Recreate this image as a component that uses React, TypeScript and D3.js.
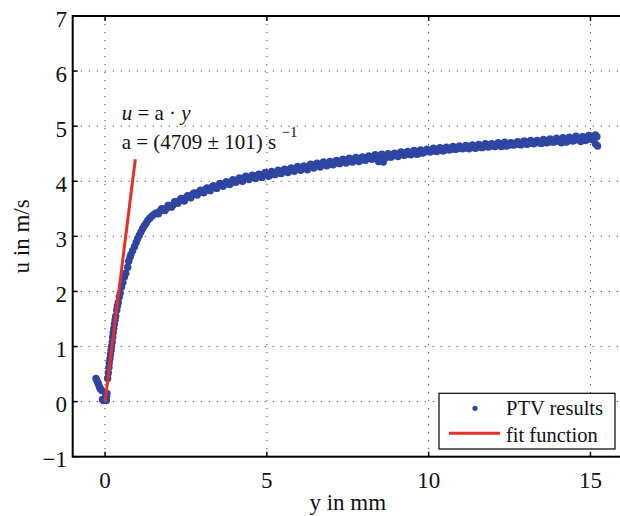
import React from "react";
import * as d3 from "d3";

// ---- data ----
const nearWallY = [-0.28, -0.25, -0.22, -0.2, -0.17, -0.14, -0.1, -0.08, -0.05, -0.02, 0.0, 0.03, 0.05, 0.02, 0.06, 0.04];
const nearWallU = [0.42, 0.38, 0.34, 0.31, 0.26, 0.23, 0.2, 0.04, 0.02, 0.03, 0.05, 0.06, 0.1, 0.13, 0.15, 0.02];

const riseY = [0.08, 0.1, 0.12, 0.13, 0.15, 0.17, 0.185, 0.2, 0.22, 0.235, 0.25, 0.27, 0.29, 0.31, 0.33, 0.36, 0.38, 0.41, 0.44, 0.47, 0.51, 0.55, 0.6, 0.64, 0.7, 0.73, 0.77, 0.8, 0.85, 0.91, 0.96, 1.01, 1.06, 1.11, 1.16, 1.21, 1.27, 1.32, 1.38, 1.45, 1.52];
const riseU = [0.42, 0.52, 0.62, 0.7, 0.78, 0.86, 0.93, 1.0, 1.08, 1.17, 1.25, 1.33, 1.41, 1.48, 1.55, 1.66, 1.73, 1.8, 1.9, 1.97, 2.08, 2.16, 2.26, 2.33, 2.44, 2.55, 2.62, 2.67, 2.74, 2.81, 2.89, 2.96, 3.02, 3.08, 3.14, 3.19, 3.24, 3.29, 3.33, 3.37, 3.4];

const outerY = [
  1.6, 1.7, 1.8, 1.9, 2.0, 2.1, 2.2, 2.3, 2.4, 2.5, 2.6, 2.7, 2.8, 2.9, 3.0, 3.1, 3.2, 3.3, 3.4, 3.5,
  3.6, 3.7, 3.8, 3.9, 4.0, 4.1, 4.2, 4.3, 4.4, 4.5, 4.6, 4.7, 4.8, 4.9, 5.0, 5.1, 5.2, 5.3, 5.4, 5.5,
  5.6, 5.7, 5.8, 5.9, 6.0, 6.1, 6.2, 6.3, 6.4, 6.5, 6.6, 6.7, 6.8, 6.9, 7.0, 7.1, 7.2, 7.3, 7.4, 7.5,
  7.6, 7.7, 7.8, 7.9, 8.0, 8.1, 8.2, 8.3, 8.4, 8.5, 8.6, 8.7, 8.8, 8.9, 9.0, 9.1, 9.2, 9.3, 9.4, 9.5,
  9.6, 9.7, 9.8, 9.9, 10.0, 10.1, 10.2, 10.3, 10.4, 10.5, 10.6, 10.7, 10.8, 10.9, 11.0, 11.1, 11.2, 11.3, 11.4, 11.5,
  11.6, 11.7, 11.8, 11.9, 12.0, 12.1, 12.2, 12.3, 12.4, 12.5, 12.6, 12.7, 12.8, 12.9, 13.0, 13.1, 13.2, 13.3, 13.4, 13.5,
  13.6, 13.7, 13.8, 13.9, 14.0, 14.1, 14.2, 14.3, 14.4, 14.5, 14.6, 14.7, 14.8, 14.9, 15.0, 15.1, 15.15, 15.2, 15.22,
];
const outerU = [
  3.43, 3.46, 3.49, 3.51, 3.56, 3.57, 3.62, 3.65, 3.66, 3.7, 3.71, 3.76, 3.77, 3.8, 3.81, 3.85, 3.84, 3.89, 3.9, 3.92,
  3.94, 3.96, 3.98, 3.97, 4.01, 4.03, 4.02, 4.06, 4.05, 4.08, 4.07, 4.1, 4.09, 4.12, 4.13, 4.11, 4.15, 4.16, 4.15, 4.19,
  4.18, 4.21, 4.2, 4.23, 4.22, 4.25, 4.24, 4.27, 4.26, 4.3, 4.28, 4.31, 4.32, 4.3, 4.34, 4.33, 4.36, 4.35, 4.37, 4.39,
  4.36, 4.4, 4.38, 4.41, 4.39, 4.43, 4.42, 4.45, 4.43, 4.45, 4.35, 4.46, 4.44, 4.48, 4.47, 4.5, 4.48, 4.51, 4.49, 4.52,
  4.5, 4.53, 4.51, 4.55, 4.54, 4.56, 4.55, 4.58, 4.56, 4.59, 4.57, 4.6, 4.58, 4.61, 4.6, 4.62, 4.6, 4.63, 4.61, 4.64,
  4.62, 4.64, 4.63, 4.66, 4.64, 4.67, 4.65, 4.66, 4.64, 4.68, 4.66, 4.69, 4.67, 4.7, 4.68, 4.71, 4.69, 4.7, 4.72, 4.69,
  4.73, 4.71, 4.74, 4.72, 4.75, 4.7, 4.76, 4.73, 4.77, 4.74, 4.78, 4.72, 4.8, 4.76, 4.82, 4.78, 4.68, 4.81, 4.64,
];

const outerY2 = [
  1.65, 1.75, 1.85, 1.95, 2.05, 2.15, 2.25, 2.35, 2.45, 2.55, 2.65, 2.75, 2.85, 2.95, 3.05, 3.15, 3.25, 3.35, 3.45, 3.55,
  3.65, 3.75, 3.85, 3.95, 4.05, 4.15, 4.25, 4.35, 4.45, 4.55, 4.65, 4.75, 4.85, 4.95, 5.05, 5.15, 5.25, 5.35, 5.45, 5.55,
  5.65, 5.75, 5.85, 5.95, 6.05, 6.15, 6.25, 6.35, 6.45, 6.55, 6.65, 6.75, 6.85, 6.95, 7.05, 7.15, 7.25, 7.35, 7.45, 7.55,
  7.65, 7.75, 7.85, 7.95, 8.05, 8.15, 8.25, 8.35, 8.45, 8.55, 8.65, 8.75, 8.85, 8.95, 9.05, 9.15, 9.25, 9.35, 9.45, 9.55,
  9.65, 9.75, 9.85, 9.95, 10.05, 10.15, 10.25, 10.35, 10.45, 10.55, 10.65, 10.75, 10.85, 10.95, 11.05, 11.15, 11.25, 11.35, 11.45, 11.55,
  11.65, 11.75, 11.85, 11.95, 12.05, 12.15, 12.25, 12.35, 12.45, 12.55, 12.65, 12.75, 12.85, 12.95, 13.05, 13.15, 13.25, 13.35, 13.45, 13.55,
  13.65, 13.75, 13.85, 13.95, 14.05, 14.15, 14.25, 14.35, 14.45, 14.55, 14.65, 14.75, 14.85, 14.95, 15.05, 15.15,
];
const outerU2 = [
  3.41, 3.5, 3.47, 3.56, 3.53, 3.63, 3.6, 3.69, 3.64, 3.74, 3.7, 3.79, 3.75, 3.84, 3.79, 3.88, 3.83, 3.92, 3.87, 3.96,
  3.91, 3.99, 3.94, 4.03, 3.98, 4.06, 4.0, 4.09, 4.03, 4.11, 4.05, 4.13, 4.07, 4.16, 4.09, 4.18, 4.12, 4.2, 4.14, 4.22,
  4.16, 4.24, 4.18, 4.27, 4.2, 4.28, 4.21, 4.31, 4.24, 4.33, 4.26, 4.35, 4.28, 4.36, 4.3, 4.38, 4.32, 4.4, 4.33, 4.42,
  4.35, 4.43, 4.36, 4.44, 4.38, 4.46, 4.4, 4.48, 4.36, 4.49, 4.42, 4.5, 4.44, 4.51, 4.45, 4.53, 4.47, 4.54, 4.48, 4.56,
  4.49, 4.57, 4.52, 4.58, 4.53, 4.6, 4.54, 4.61, 4.55, 4.62, 4.57, 4.63, 4.58, 4.64, 4.59, 4.65, 4.59, 4.66, 4.6, 4.67,
  4.61, 4.68, 4.62, 4.68, 4.63, 4.7, 4.63, 4.71, 4.65, 4.7, 4.66, 4.72, 4.66, 4.73, 4.67, 4.74, 4.68, 4.74, 4.69, 4.76,
  4.7, 4.77, 4.71, 4.78, 4.72, 4.79, 4.71, 4.8, 4.73, 4.82, 4.75, 4.81, 4.74, 4.83, 4.76, 4.84,
];

const fitY = [0, 0.935];
const fitU = [0, 4.4];

const xTicks = [0, 5, 10, 15];
const yTicks = [-1, 0, 1, 2, 3, 4, 5, 6, 7];

const xLabel = "y in mm";
const yLabel = "u in m/s";
const legendLabels = ["PTV results", "fit function"];

const FONT = "Liberation Serif, Times New Roman, Times, DejaVu Serif, serif";
const BLUE = "#2f45a2";
const RED = "#e5302a";

export default function App() {
  const W = 620, H = 516;
  const left = 72.7, top = 16, bottom = 456.7;
  const x = d3.scaleLinear().domain([-1, 16]).range([left, left + 17 * 32.36]);
  const y = d3.scaleLinear().domain([-1, 7]).range([bottom, top]);
  const right = x(16);

  const pts: [number, number][] = [];
  nearWallY.forEach((v, i) => pts.push([v, nearWallU[i]]));
  riseY.forEach((v, i) => pts.push([v, riseU[i]]));
  outerY.forEach((v, i) => pts.push([v, outerU[i]]));
  outerY2.forEach((v, i) => pts.push([v, outerU2[i]]));

  const fitLine = d3.line<number>().x((d) => x(d)).y((_, i) => y(fitU[i]))(fitY) || "";

  return (
    <svg width={W} height={H} style={{ position: "absolute", left: 0, top: 0, fontFamily: FONT }}>
      <style>{`text { font-family: "Liberation Serif", "Times New Roman", Times, serif; }`}</style>
      <rect x={0} y={0} width={W} height={H} fill="#fff" />
      {/* grid */}
      <g stroke="#444" strokeWidth={1} strokeDasharray="1.2,6.8">
        {xTicks.map((t) => (
          <line key={"gx" + t} x1={x(t)} x2={x(t)} y1={top} y2={bottom} />
        ))}
        {yTicks.filter((t) => t > -1 && t < 7).map((t) => (
          <line key={"gy" + t} x1={left} x2={right} y1={y(t)} y2={y(t)} />
        ))}
      </g>
      {/* data */}
      <g fill={BLUE}>
        {pts.map((p, i) => (
          <circle key={i} cx={x(p[0])} cy={y(p[1])} r={3.7} />
        ))}
      </g>
      <path d={fitLine} stroke={RED} strokeWidth={3} fill="none" />
      {/* axes box */}
      <rect x={left} y={top} width={right - left} height={bottom - top} fill="none" stroke="#000" strokeWidth={2} />
      <g stroke="#000" strokeWidth={1.5}>
        {xTicks.map((t) => (
          <g key={"tx" + t}>
            <line x1={x(t)} x2={x(t)} y1={bottom} y2={bottom - 5} />
            <line x1={x(t)} x2={x(t)} y1={top} y2={top + 5} />
          </g>
        ))}
        {yTicks.map((t) => (
          <g key={"ty" + t}>
            <line x1={left} x2={left + 5} y1={y(t)} y2={y(t)} />
          </g>
        ))}
      </g>
      {/* tick labels */}
      <g fontSize={23} fill="#111">
        {xTicks.map((t) => (
          <text key={"lx" + t} x={x(t)} y={487.5} textAnchor="middle">{String(t)}</text>
        ))}
        {yTicks.map((t) => (
          <text key={"ly" + t} x={67} y={y(t) + 10.5} textAnchor="end">{t < 0 ? "\u2212" + Math.abs(t) : String(t)}</text>
        ))}
      </g>
      <text x={(left + right) / 2} y={510} textAnchor="middle" fontSize={23} fill="#111">{xLabel}</text>
      <text transform={`translate(29,${(top + bottom) / 2}) rotate(-90)`} textAnchor="middle" fontSize={23} fill="#111">{yLabel}</text>
      {/* annotation */}
      <g fontSize={21} fill="#111">
        <text x={121.7} y={120}>
          <tspan fontStyle="italic">u</tspan>
          <tspan> = a · </tspan>
          <tspan fontStyle="italic">y</tspan>
        </text>
        <text x={121.7} y={149}>a = (4709 ± 101) s</text>
        <text x={281.5} y={136.5} fontSize={15}>{"\u22121"}</text>
      </g>
      {/* legend */}
      <rect x={439} y={393.3} width={176} height={55.7} fill="#fff" stroke="#000" strokeWidth={1.2} />
      <circle cx={475} cy={408.3} r={2.6} fill={BLUE} />
      <line x1={449} x2={500} y1={433.3} y2={433.3} stroke={RED} strokeWidth={3} />
      <g fontSize={20.5} fill="#111">
        <text x={506} y={415}>{legendLabels[0]}</text>
        <text x={506} y={441.5}>{legendLabels[1]}</text>
      </g>
    </svg>
  );
}
